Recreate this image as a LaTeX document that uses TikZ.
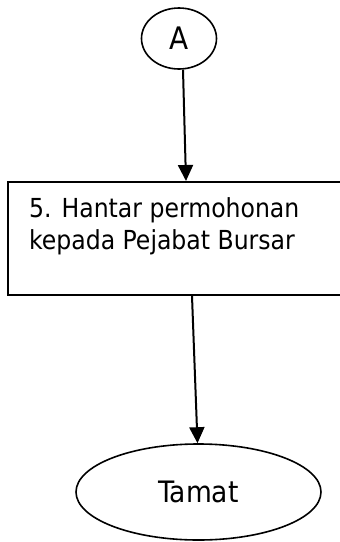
\documentclass[tikz,border=0pt]{standalone}
\usepackage{fontspec}
\setmainfont{DejaVu Sans Condensed}
\usetikzlibrary{arrows.meta,calc,positioning,shapes.geometric}

\tikzset{
  conn/.style={line width=2pt,-{Triangle[width=15pt,length=16pt]}},
  penyambung/.style={ellipse,draw,line width=1.6pt,minimum width=75pt,minimum height=61pt,inner sep=0pt,
    font=\fontsize{31}{34}\selectfont},
  prosesbox/.style={rectangle,draw,line width=2pt,minimum width=342pt,minimum height=113pt,inner sep=0pt},
  tamatnode/.style={ellipse,draw,line width=1.6pt,minimum width=245pt,minimum height=96pt,inner sep=0pt,
    font=\fontsize{29.5}{34}\selectfont},
}

\begin{document}
\begin{tikzpicture}[x=1pt,y=1pt]
%
  \useasboundingbox (0,0) rectangle (340,-542) ;
  \clip (0,0) rectangle (340,-542) ;
%
  \node (A) [penyambung] at (179,-38.5) {A} ;
%
  \node (box) [prosesbox] at (179,-238.5) {} ;
  \node (txt) [anchor=north west,align=left,inner sep=0pt,font=\fontsize{26.2}{32}\selectfont] at (29,-197.5)
    {5. Hantar permohonan\\ kepada Pejabat Bursar} ;
%
  \node (tamat) [tamatnode] at (198.5,-492) {Tamat} ;
%
  \draw [conn] ([xshift=4pt]A.south) -- ([xshift=7pt]box.north) ;
  \draw [conn] ([xshift=13pt]box.south) -- ([xshift=-1pt]tamat.north) ;
%
\end{tikzpicture}
\end{document}
